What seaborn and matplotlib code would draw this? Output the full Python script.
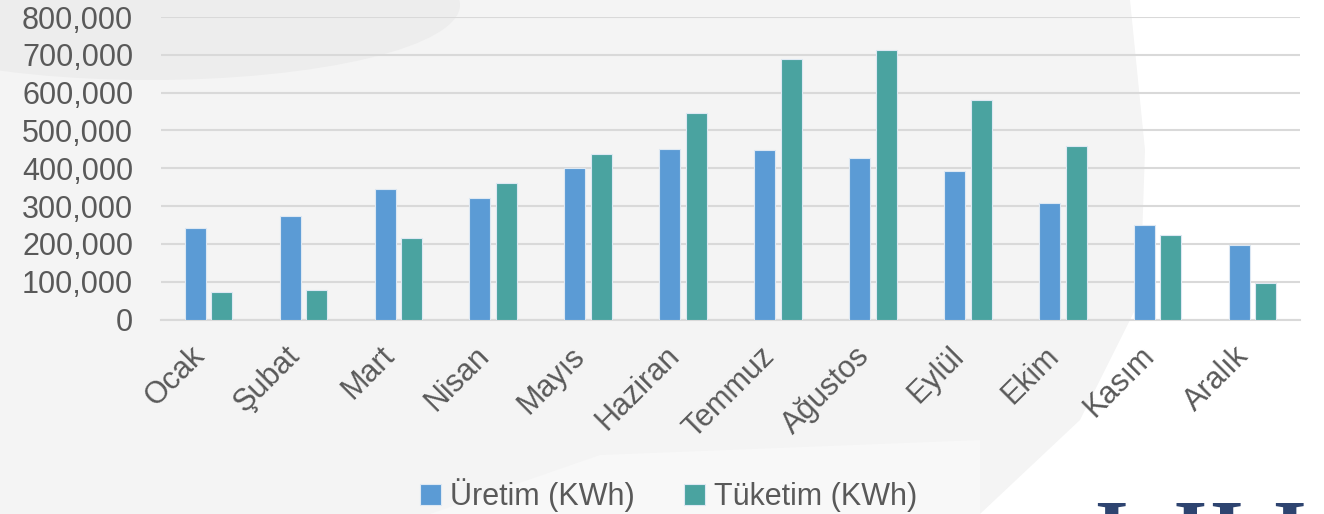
import matplotlib
matplotlib.use('Agg')
import matplotlib.pyplot as plt
from matplotlib.patches import Polygon, Ellipse
from matplotlib.ticker import FuncFormatter
from matplotlib.transforms import ScaledTranslation
import pandas as pd
import seaborn as sns

# monthly energy data
months = ['Ocak', 'Şubat', 'Mart', 'Nisan', 'Mayıs', 'Haziran',
          'Temmuz', 'Ağustos', 'Eylül', 'Ekim', 'Kasım', 'Aralık']
uretim = [241000, 275000, 346000, 321000, 402000, 450000,
          449000, 428000, 393000, 308000, 250000, 197000]
tuketim = [74000, 78000, 216000, 360000, 437000, 545000,
           688000, 712000, 580000, 458000, 223000, 97000]
series_names = ['Üretim (KWh)', 'Tüketim (KWh)']
colors = ['#5B9BD5', '#4AA3A0']

df = pd.DataFrame({'ay': months * 2,
                   'deger': uretim + tuketim,
                   'seri': [series_names[0]] * 12 + [series_names[1]] * 12})

sns.set_style('white')
plt.rcParams['font.family'] = ['Liberation Sans', 'DejaVu Sans']
text_col = '#595959'

fig = plt.figure(figsize=(13.24, 5.14), dpi=100, facecolor='#F4F4F4')

# soft background shapes, on an axes behind everything
bg = fig.add_axes([0, 0, 1, 1], zorder=-10)
bg.set_xlim(0, 1324)
bg.set_ylim(514, 0)
bg.axis('off')
bg.add_patch(Ellipse((150, 5), 620, 150, facecolor='#EDEDED', edgecolor='none'))
bg.add_patch(Polygon([(1130, 0), (1324, 0), (1324, 514), (980, 514),
                      (1080, 420), (1140, 300), (1145, 150)],
                     closed=True, facecolor='#FFFFFF', edgecolor='none'))
bg.add_patch(Polygon([(430, 514), (600, 455), (980, 440), (980, 514)],
                     closed=True, facecolor='#F8F8F8', edgecolor='none'))

ax = fig.add_axes([0.1216, 0.3784, 0.8603, 0.5885])
ax.set_facecolor('none')

sns.barplot(data=df, x='ay', y='deger', hue='seri', palette=colors,
            width=0.56, gap=0.21, ax=ax, edgecolor='#DDE8F3', linewidth=0.8,
            saturation=1, zorder=3)

ax.set_ylim(0, 800000)
ax.set_yticks(range(0, 800001, 100000))
ax.yaxis.set_major_formatter(FuncFormatter(lambda v, p: f'{int(v):,}'))
ax.grid(axis='y', color='#D9D9D9', linewidth=1.5, zorder=0)
ax.set_axisbelow(True)
for s in ['top', 'right', 'left']:
    ax.spines[s].set_visible(False)
ax.spines['bottom'].set_color('#D9D9D9')
ax.spines['bottom'].set_linewidth(1.5)

ax.set_xlabel('')
ax.set_ylabel('')
ax.tick_params(axis='y', labelsize=22, labelcolor=text_col, length=0, pad=20)
ax.tick_params(axis='x', labelsize=22, labelcolor=text_col, length=0, pad=23)
shift = ScaledTranslation(-8 / 100, 0, fig.dpi_scale_trans)
for lab in ax.get_xticklabels():
    lab.set_rotation(45)
    lab.set_ha('right')
    lab.set_va('center')
    lab.set_rotation_mode('anchor')
    lab.set_transform(lab.get_transform() + shift)

ax.legend_.remove()
handles, labels = ax.get_legend_handles_labels()
fig.legend(handles, labels, loc='center', bbox_to_anchor=(0.505, 0.037),
           ncol=2, frameon=False, fontsize=22, labelcolor=text_col,
           handlelength=0.7, handleheight=0.7, handletextpad=0.3,
           columnspacing=1.6)

# logo letters partly cut off at the bottom right, as in the source slide
for xpos, letter in [(1094, 'I'), (1174, 'H'), (1272, 'I')]:
    fig.text(xpos / 1324, 0.027, letter, family='Liberation Serif',
             fontweight='bold', fontsize=62, color='#2E4470',
             va='top', ha='left')

fig.savefig('out.png', dpi=100, facecolor=fig.get_facecolor())
